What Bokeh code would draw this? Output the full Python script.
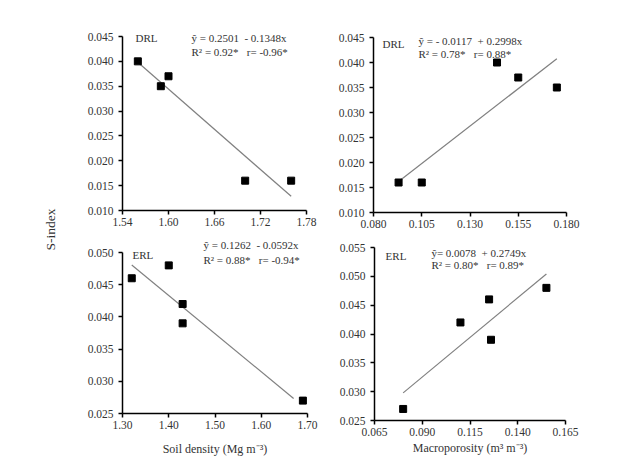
import math
from bokeh.plotting import figure
from bokeh.layouts import row, column
from bokeh.models import Range1d, FixedTicker, NumeralTickFormatter, Label
from bokeh.embed import file_html
from bokeh.resources import INLINE

# ---- data -------------------------------------------------------------
# DRL: S-index vs soil density
density_drl = [1.56, 1.59, 1.60, 1.70, 1.76]
sidx_density_drl = [0.040, 0.035, 0.037, 0.016, 0.016]
# DRL: S-index vs macroporosity
macro_drl = [0.093, 0.105, 0.144, 0.155, 0.175]
sidx_macro_drl = [0.016, 0.016, 0.040, 0.037, 0.035]
# ERL: S-index vs soil density
density_erl = [1.32, 1.40, 1.43, 1.43, 1.69]
sidx_density_erl = [0.046, 0.048, 0.042, 0.039, 0.027]
# ERL: S-index vs macroporosity
macro_erl = [0.080, 0.110, 0.125, 0.126, 0.155]
sidx_macro_erl = [0.027, 0.042, 0.046, 0.039, 0.048]

# fitted lines: (intercept, slope, x start, x end)
fit_density_drl = (0.2501, -0.1348, 1.56, 1.76)
fit_macro_drl = (-0.0117, 0.2998, 0.093, 0.175)
fit_density_erl = (0.1262, -0.0592, 1.32, 1.67)
fit_macro_erl = (0.0078, 0.2749, 0.080, 0.155)

# tick values
xt_density_drl = [1.54, 1.60, 1.66, 1.72, 1.78]
xt_macro_drl = [0.080, 0.105, 0.130, 0.155, 0.180]
xt_density_erl = [1.30, 1.40, 1.50, 1.60, 1.70]
xt_macro_erl = [0.065, 0.090, 0.115, 0.140, 0.165]
yt_drl = [0.010, 0.015, 0.020, 0.025, 0.030, 0.035, 0.040, 0.045]
yt_density_erl = [0.025, 0.030, 0.035, 0.040, 0.045, 0.050]
yt_macro_erl = [0.025, 0.030, 0.035, 0.040, 0.045, 0.050, 0.055]

SERIF = "Liberation Serif"
TXT = "#333333"
SP = "\u00a0"  # keeps the double spacing inside the equations


def panel(w, h, bl, br, bt, bb, xs, ys, fit, xticks, yticks, xfmt, tag,
          eq1, eq2, pos, xlabel=None, xlabel_standoff=8, head=14):
    # the frame reaches `head` px above the top tick so that the equation
    # text has room; the y axis line stops at the top tick
    frame_h = h - bt - bb
    ymin, ymax = yticks[0], yticks[-1]
    ytop = ymax + head * (ymax - ymin) / frame_h
    p = figure(width=w, height=h, output_backend="svg", toolbar_location=None,
               min_border_left=bl, min_border_right=br,
               min_border_top=bt - head, min_border_bottom=bb,
               x_range=Range1d(xticks[0], xticks[-1]),
               y_range=Range1d(ymin, ytop))
    p.frame_align = False
    p.outline_line_color = None
    p.grid.visible = False
    p.background_fill_color = "white"
    p.border_fill_color = "white"

    for ax in (p.xaxis[0], p.yaxis[0]):
        ax.axis_line_color = "black"
        ax.axis_line_width = 1.5
        ax.major_tick_line_color = "black"
        ax.major_tick_line_width = 1.5
        ax.major_tick_out = 4
        ax.major_tick_in = 0
        ax.minor_tick_line_color = None
        ax.major_label_text_font = SERIF
        ax.major_label_text_font_size = "11.5px"
        ax.major_label_text_color = TXT
    p.yaxis.bounds = (ymin, ymax)
    p.xaxis.major_label_standoff = 3
    p.yaxis.major_label_standoff = 5
    p.xaxis.ticker = FixedTicker(ticks=xticks)
    p.yaxis.ticker = FixedTicker(ticks=yticks)
    p.xaxis.formatter = NumeralTickFormatter(format=xfmt)
    p.yaxis.formatter = NumeralTickFormatter(format="0.000")

    if xlabel:
        p.xaxis.axis_label = xlabel
        p.xaxis.axis_label_text_font = SERIF
        p.xaxis.axis_label_text_font_style = "normal"
        p.xaxis.axis_label_text_font_size = "12px"
        p.xaxis.axis_label_text_color = TXT
        p.xaxis.axis_label_standoff = xlabel_standoff

    b0, b1, x0, x1 = fit
    p.line([x0, x1], [b0 + b1 * x0, b0 + b1 * x1], line_color="#808080", line_width=1.2)
    p.scatter(xs, ys, marker="square", size=7, fill_color="black", line_color="black")

    (tx, ty), (ex, ey1, ey2) = pos
    for text, x, y in ((tag, tx, ty), (eq1, ex, ey1), (eq2, ex, ey2)):
        p.add_layout(Label(x=x, y=y, text=text, text_font=SERIF, text_font_size="11px",
                           text_color=TXT, text_baseline="middle", text_align="left"))
    return p


p1 = panel(250, 232, 42, 24, 36, 22, density_drl, sidx_density_drl, fit_density_drl,
           xt_density_drl, yt_drl, "0.00", "DRL",
           f"ŷ = 0.2501{SP} - 0.1348x", f"R² = 0.92*{SP}{SP} r= -0.96*",
           ((1.557, 0.0446), (1.630, 0.0446, 0.0418)))
p2 = panel(294, 232, 43, 58, 37, 20, macro_drl, sidx_macro_drl, fit_macro_drl,
           xt_macro_drl, yt_drl, "0.000", "DRL",
           f"ŷ = - 0.0117{SP} + 0.2998x", f"R² = 0.78*{SP}{SP} r= 0.88*",
           ((0.0847, 0.0438), (0.1033, 0.0444, 0.0418)))
p3 = panel(250, 226, 42, 23, 20, 45, density_erl, sidx_density_erl, fit_density_erl,
           xt_density_erl, yt_density_erl, "0.00", "ERL",
           f"ŷ = 0.1262{SP} - 0.0592x", f"R² = 0.88*{SP}{SP} r= -0.94*",
           ((1.3216, 0.0496), (1.475, 0.0511, 0.0489)),
           xlabel="Soil density (Mg m⁻³)", xlabel_standoff=10, head=18)
p4 = panel(294, 226, 44, 59, 15, 38, macro_erl, sidx_macro_erl, fit_macro_erl,
           xt_macro_erl, yt_macro_erl, "0.000", "ERL",
           f"ŷ= 0.0078{SP} + 0.2749x", f"R² = 0.80*{SP}{SP} r= 0.89*",
           ((0.0708, 0.0536), (0.0948, 0.0540, 0.0519)),
           xlabel="Macroporosity (m³ m⁻³)", xlabel_standoff=2, head=12)

# shared y-axis title on a narrow strip
strip = figure(width=80, height=458, output_backend="svg", toolbar_location=None,
               x_range=Range1d(0, 80), y_range=Range1d(0, 458),
               min_border_left=0, min_border_right=0, min_border_top=0, min_border_bottom=0)
strip.frame_align = False
strip.axis.visible = False
strip.grid.visible = False
strip.outline_line_color = None
strip.add_layout(Label(x=50, y=229, text="S-index", angle=math.pi / 2,
                       text_font=SERIF, text_font_size="13.5px", text_color=TXT,
                       text_align="center", text_baseline="middle"))

layout = row(strip, column(row(p1, p2), row(p3, p4)))

open("out.html", "w").write(file_html(layout, INLINE))
